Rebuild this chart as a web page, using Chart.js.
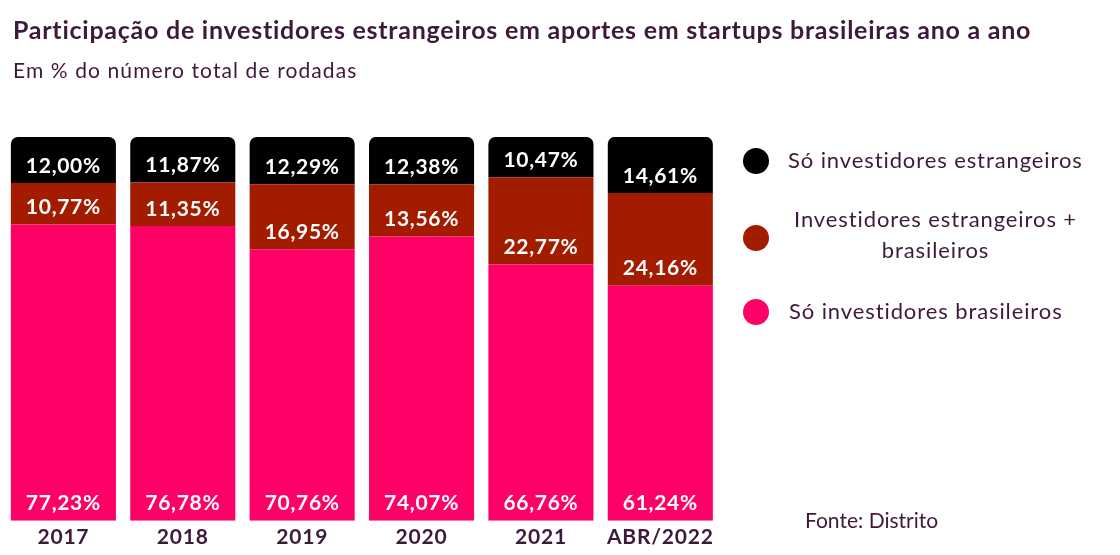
<!DOCTYPE html>
<html>
<head>
<meta charset="utf-8">
<script src="https://cdn.jsdelivr.net/npm/chart.js@4"></script>
<style>
	html, body { margin: 0; padding: 0; background: #fff; }
	body { width: 1120px; height: 555px; position: relative; overflow: hidden; font-family: 'Lato', sans-serif; color: #3d1a3a; font-variant-ligatures: none; }
	#chart-box { position: absolute; left: 0; top: 0; width: 1120px; height: 555px; }
	.title { position: absolute; left: 13px; top: 14px; font-size: 25px; font-weight: bold; line-height: 30px; letter-spacing: 0.75px; white-space: nowrap; }
	.subtitle { position: absolute; left: 13px; top: 58px; font-size: 21px; line-height: 24px; letter-spacing: 1.1px; white-space: nowrap; }
	.legend-dot { position: absolute; left: 743px; width: 26px; height: 26px; border-radius: 50%; }
	.legend-text { position: absolute; font-size: 22px; line-height: 31px; letter-spacing: 0.9px; white-space: nowrap; }
	.source { position: absolute; left: 805px; top: 508px; font-size: 21px; line-height: 24px; }
</style>
</head>
<body>
<div id="chart-box"><canvas id="myChart"></canvas></div>
<div class="title">Participação de investidores estrangeiros em aportes em startups brasileiras ano a ano</div>
<div class="subtitle">Em % do número total de rodadas</div>
<div id="legend"></div>
<div class="source">Fonte: Distrito</div>
<script>
const categories = ['2017', '2018', '2019', '2020', '2021', 'ABR/2022'];
const soBrasileiros = [77.23, 76.78, 70.76, 74.07, 66.76, 61.24];
const estrangeirosEBrasileiros = [10.77, 11.35, 16.95, 13.56, 22.77, 24.16];
const soEstrangeiros = [12.00, 11.87, 12.29, 12.38, 10.47, 14.61];

const textColor = '#3d1a3a';
const pink = '#ff0066';
const darkRed = '#a31c00';
const black = '#000000';

function formatPercent(value) {
	return value.toFixed(2).replace('.', ',') + '%';
}

// a little extra spacing on all canvas text, the reference font runs wide
const wideText = {
	id: 'wideText',
	beforeInit(chart) { chart.ctx.letterSpacing = '0.8px'; },
	beforeDraw(chart) { chart.ctx.letterSpacing = '0.8px'; }
};

// labels sit near the bottom of each segment
const segmentLabels = {
	id: 'segmentLabels',
	afterDatasetsDraw(chart) {
		const ctx = chart.ctx;
		ctx.save();
		ctx.font = 'bold 21px Lato';
		ctx.letterSpacing = '0.7px';
		ctx.fillStyle = '#ffffff';
		ctx.textAlign = 'center';
		ctx.textBaseline = 'alphabetic';
		chart.data.datasets.forEach((dataset, i) => {
			chart.getDatasetMeta(i).data.forEach((bar, j) => {
				ctx.fillText(formatPercent(dataset.data[j]), bar.x, bar.base - 10.5);
			});
		});
		ctx.restore();
	}
};

Chart.defaults.font.family = 'Lato';

const myChart = new Chart(document.getElementById('myChart'), {
	type: 'bar',
	data: {
		labels: categories,
		datasets: [
			{ label: 'Só investidores brasileiros', data: soBrasileiros, backgroundColor: pink },
			{ label: 'Investidores estrangeiros + brasileiros', data: estrangeirosEBrasileiros, backgroundColor: darkRed },
			{
				label: 'Só investidores estrangeiros',
				data: soEstrangeiros,
				backgroundColor: black,
				borderRadius: { topLeft: 7, topRight: 7, bottomLeft: 0, bottomRight: 0 },
				borderSkipped: false
			}
		]
	},
	options: {
		responsive: true,
		maintainAspectRatio: false,
		animation: false,
		datasets: {
			bar: { categoryPercentage: 1, barPercentage: 0.88 }
		},
		layout: { padding: { left: 3.7, right: 400, top: 137, bottom: 1 } },
		plugins: {
			legend: { display: false },
			tooltip: { enabled: false }
		},
		scales: {
			x: {
				stacked: true,
				grid: { display: false, drawTicks: false },
				border: { display: false },
				ticks: { color: textColor, font: { size: 21, weight: 'bold' }, padding: 4 }
			},
			y: {
				stacked: true,
				display: false,
				min: 0,
				max: 100
			}
		}
	},
	plugins: [wideText, segmentLabels]
});

// legend, same order as the reference (top to bottom)
const legendItems = [
	{ lines: ['Só investidores estrangeiros'], color: black, dotTop: 148, textTop: 144, textLeft: 788, width: null },
	{ lines: ['Investidores estrangeiros +', 'brasileiros'], color: darkRed, dotTop: 225, textTop: 203, textLeft: 785.5, width: 300 },
	{ lines: ['Só investidores brasileiros'], color: pink, dotTop: 299, textTop: 295, textLeft: 789, width: null }
];

const legendHolder = document.getElementById('legend');
legendItems.forEach(item => {
	const dot = document.createElement('div');
	dot.classList.add('legend-dot');
	dot.style.top = item.dotTop + 'px';
	dot.style.background = item.color;
	const text = document.createElement('div');
	text.classList.add('legend-text');
	text.style.top = item.textTop + 'px';
	text.style.left = item.textLeft + 'px';
	if (item.width) {
		text.style.width = item.width + 'px';
		text.style.textAlign = 'center';
	}
	text.innerHTML = item.lines.join('<br>');
	legendHolder.appendChild(dot);
	legendHolder.appendChild(text);
});
</script>
</body>
</html>
